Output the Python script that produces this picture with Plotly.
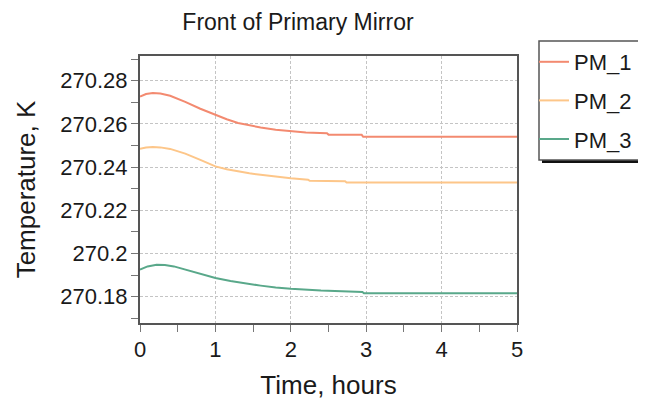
import plotly.graph_objects as go

# ---- data ----
t_pm1 = [0, 0.08, 0.17, 0.27, 0.4, 0.5, 0.6, 0.8, 1.0, 1.15, 1.3, 1.45, 1.6, 1.8, 2.0,
         2.2, 2.48, 2.5, 2.94, 2.96, 5]
pm1 = [270.2726, 270.2738, 270.2743, 270.2740, 270.2730, 270.2717, 270.2702, 270.2670,
       270.2642, 270.2621, 270.2604, 270.2592, 270.2583, 270.2573, 270.2565,
       270.2560, 270.2556, 270.2550, 270.2549, 270.2540, 270.2540]

t_pm2 = [0, 0.08, 0.17, 0.27, 0.4, 0.5, 0.6, 0.8, 1.0, 1.15, 1.3, 1.45, 1.6, 1.8, 2.0,
         2.23, 2.25, 2.72, 2.74, 5]
pm2 = [270.2484, 270.2490, 270.2493, 270.2491, 270.2484, 270.2474, 270.2462, 270.2433,
       270.2403, 270.2390, 270.2380, 270.2371, 270.2364, 270.2355, 270.2348,
       270.2341, 270.2336, 270.2334, 270.2328, 270.2328]

t_pm3 = [0, 0.1, 0.22, 0.33, 0.45, 0.6, 0.8, 1.0, 1.2, 1.4, 1.6, 1.8, 2.0, 2.4, 2.95,
         2.97, 5]
pm3 = [270.1925, 270.1940, 270.1948, 270.1946, 270.1940, 270.1926, 270.1905, 270.1886,
       270.1872, 270.1860, 270.1851, 270.1842, 270.1836, 270.1828, 270.1822,
       270.1816, 270.1816]

series_names = ["PM_1", "PM_2", "PM_3"]
x_ticks = [0, 1, 2, 3, 4, 5]
y_ticks = [270.18, 270.2, 270.22, 270.24, 270.26, 270.28]
y_tick_labels = ["270.18", "270.2", "270.22", "270.24", "270.26", "270.28"]

FONT = "Liberation Sans Narrow, Arial Narrow, Liberation Sans, Arial, sans-serif"
FS = 22
colors = ["#F38A70", "#FDC689", "#59A88A"]

fig = go.Figure()
for i, (tx, ty) in enumerate([(t_pm1, pm1), (t_pm2, pm2), (t_pm3, pm3)]):
    fig.add_trace(go.Scatter(x=tx, y=ty, mode="lines", name=series_names[i],
                             legendgroup=series_names[i],
                             line=dict(color=colors[i], width=2)))

# the page body adds an 8px offset; work in viewport coords and convert
OFF = 8
VW, VH = 646, 404
W, H = VW - OFF, VH - OFF
# plot area in viewport pixels: left 140, right 517, top 56, bottom 323
L, R, T, B = 140 - OFF, 517 - OFF, 56 - OFF, 323 - OFF
pw, ph = R - L, B - T

def px(x):
    return (x - OFF - L) / pw

def py(y):
    return (B - (y - OFF)) / ph

# legend box with shadow
fig.add_shape(type="rect", xref="paper", yref="paper",
              x0=px(542), x1=px(650), y0=py(163), y1=py(44),
              fillcolor="#111111", line=dict(width=0), layer="below")
fig.add_shape(type="rect", xref="paper", yref="paper",
              x0=px(539), x1=px(647), y0=py(160), y1=py(41),
              fillcolor="white", line=dict(color="#555555", width=1.5), layer="below")

fig.update_layout(
    width=W, height=H,
    margin=dict(l=L, r=W - R, t=T, b=H - B, pad=0, autoexpand=False),
    paper_bgcolor="white", plot_bgcolor="white",
    font=dict(family=FONT, size=FS, color="#1a1a1a"),
    title=dict(text="Front of Primary Mirror", x=(298 - OFF) / W, xanchor="center",
               y=1 - (22 - OFF) / H, yanchor="middle", font=dict(size=23, family=FONT),
               automargin=False),
    showlegend=True,
    legend=dict(x=px(534), y=py(41), xanchor="left", yanchor="top",
                bgcolor="rgba(0,0,0,0)", borderwidth=0,
                font=dict(size=FS, family=FONT),
                itemwidth=30, tracegroupgap=7, traceorder="grouped"),
    xaxis=dict(range=[0, 5], tickvals=x_ticks, ticktext=[str(v) for v in x_ticks],
               showgrid=True, gridcolor="#c4c4c4", griddash="3px,2px", gridwidth=1,
               showline=True, linecolor="#555555", linewidth=2, mirror=True,
               ticks="", zeroline=False, automargin=False, ticklabelstandoff=6,
               minor=dict(ticks="outside", dtick=0.5, ticklen=7, tickcolor="#777777",
                          showgrid=False),
               title=dict(text="Time, hours", standoff=14),
               tickfont=dict(size=FS)),
    yaxis=dict(range=[270.1678, 270.2914], tickvals=y_ticks, ticktext=y_tick_labels,
               showgrid=True, gridcolor="#c4c4c4", griddash="3px,2px", gridwidth=1,
               showline=True, linecolor="#555555", linewidth=2, mirror=True,
               ticks="", zeroline=False, automargin=False, ticklabelstandoff=6,
               minor=dict(ticks="outside", tick0=270.17, dtick=0.01, ticklen=7,
                          tickcolor="#777777", showgrid=False),
               title=dict(text="Temperature, K", standoff=17),
               tickfont=dict(size=FS)),
)

fig.write_html("out.html")
